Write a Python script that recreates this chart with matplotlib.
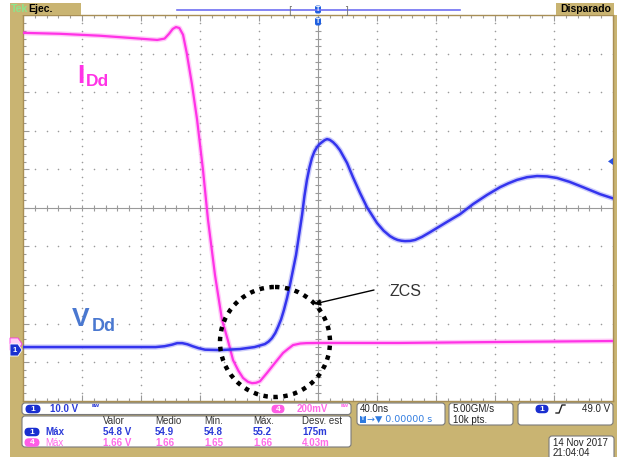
import matplotlib
matplotlib.use("Agg")
import matplotlib.pyplot as plt
from matplotlib.patches import Rectangle, FancyBboxPatch, Ellipse, Polygon
from matplotlib.ticker import MultipleLocator

# ---- acquisition settings -------------------------------------------------
TIME_PER_DIV = 40.0          # ns / div
CH1_VOLTS_PER_DIV = 10.0     # V / div
CH4_VOLTS_PER_DIV = 0.2      # V / div
CH1_GROUND_DIV = -3.69       # ground reference position (divisions)
CH4_GROUND_DIV = -3.60
TRIGGER_LEVEL = 49.0         # V

# ---- channel 1 : diode voltage V_Dd (V) ------------------------------------
vdd_t = [-200, -170, -140, -110, -104, -99, -95.5, -92, -88.5, -85, -81, -76.6,
         -66, -53, -43, -36, -33.5, -31.2, -29, -27.1, -25, -23.1, -21, -19.0,
         -14.9, -10.8, -9.2, -7.5, -5.8, -4.1, -2.4, -0.7, 1.0, 2.7, 4.4, 6.1,
         8.0, 10.2, 12.5, 14.9, 19.7, 23.7, 28.5, 33.2, 40.0, 44.5, 48.8, 51.5,
         54, 56.5, 59.0, 62.4, 65.8, 70.5, 75.9, 87.5, 96.3, 105.1, 114.6, 123.4,
         129, 134.9, 141.7, 148.5, 155.3, 162.0, 170.5, 179.7, 191.2, 200]
vdd_v = [0.78, 0.78, 0.78, 0.78, 1.0, 1.4, 1.8, 1.8, 1.5, 1.0, 0.5, 0.1,
         0.0, 0.26, 0.78, 1.56, 2.2, 3.1, 4.4, 6.0, 8.0, 10.4, 13.5, 16.9,
         24.7, 35.1, 40.0, 44.2, 47.4, 49.9, 51.6, 52.7, 53.5, 54.0, 54.5, 54.8,
         54.6, 54.0, 53.1, 51.9, 48.6, 44.9, 40.8, 37.1, 33.0, 31.0, 29.6, 29.0,
         28.6, 28.4, 28.3, 28.35, 28.6, 29.4, 30.6, 33.3, 35.3, 37.9, 40.3, 42.3,
         43.3, 44.2, 44.9, 45.2, 45.1, 44.7, 43.7, 42.3, 40.5, 39.4]

# ---- channel 4 : diode current probe I_Dd (V) ------------------------------
idd_t = [-200, -175, -148, -121, -109, -104, -101, -98.5, -96.3, -94, -91.5,
         -89, -85.4, -82, -78, -74.6, -69.8, -65.1, -61, -57.6, -54, -50.8,
         -47.5, -44.7, -42, -39.3, -34.6, -29.2, -23.7, -20, -16.9, -12, -8, 0,
         55, 123, 200]
idd_v = [1.63, 1.625, 1.615, 1.60, 1.593, 1.60, 1.625, 1.65, 1.66, 1.655, 1.62,
         1.525, 1.36, 1.18, 0.92, 0.66, 0.37, 0.14, 0.03, -0.07, -0.125, -0.163,
         -0.183, -0.19, -0.188, -0.18, -0.137, -0.085, -0.033, -0.01, 0.008,
         0.016, 0.018, 0.019, 0.019, 0.024, 0.029]

# ---- measurement table ------------------------------------------------------
meas_cols = ["Valor", "Medio", "Mín.", "Máx.", "Desv. est"]
meas_ch1 = ["54.8 V", "54.9", "54.8", "55.2", "175m"]
meas_ch4 = ["1.66 V", "1.66", "1.65", "1.66", "4.03m"]

# ---- colours ------------------------------------------------------------------
TAN = "#C9B472"
BLUE = "#3434EE"
MAGENTA = "#FF33E6"
CH1_TXT = "#2A3AD8"
CH4_TXT = "#FF6AE8"
GRID = "#9A9A9A"

W, H = 617, 457
fig = plt.figure(figsize=(W / 100, H / 100), dpi=100)
fig.patch.set_facecolor("white")


def frac(x0, y0, x1, y1):
    return [x0 / W, 1 - y1 / H, (x1 - x0) / W, (y1 - y0) / H]


# background (pixel coordinates)
bg = fig.add_axes([0, 0, 1, 1], zorder=0)
bg.set_xlim(0, W)
bg.set_ylim(H, 0)
bg.axis("off")
bg.add_patch(Rectangle((10, 15), 13, 386, color=TAN, lw=0))
bg.add_patch(Rectangle((10, 400), W - 10, 57, color=TAN, lw=0))
bg.add_patch(Rectangle((613, 15), 4, 386, color=TAN, lw=0))

# ---- screen -------------------------------------------------------------------
scr = fig.add_axes(frac(23, 15.5, 613, 400.5), zorder=1)
scr.set_facecolor("white")
scr.set_xlim(-5 * TIME_PER_DIV, 5 * TIME_PER_DIV)
scr.set_ylim(-5, 5)
for s in scr.spines.values():
    s.set_color("#A88E55")
    s.set_linewidth(1.0)
scr.xaxis.set_major_locator(MultipleLocator(TIME_PER_DIV))
scr.xaxis.set_minor_locator(MultipleLocator(TIME_PER_DIV / 5))
scr.yaxis.set_major_locator(MultipleLocator(1))
scr.yaxis.set_minor_locator(MultipleLocator(0.2))
scr.tick_params(which="both", direction="in", top=True, right=True,
                labelbottom=False, labelleft=False, color=GRID)
scr.tick_params(which="major", length=4, width=0.8)
scr.tick_params(which="minor", length=2.5, width=0.8)

# graticule dots
gx, gy = [], []
for k in range(-4, 5):
    if k == 0:
        continue
    for j in range(-25, 26):
        gx.append(k * TIME_PER_DIV)
        gy.append(j * 0.2)
for k in range(-4, 5):
    if k == 0:
        continue
    for j in range(-25, 26):
        gx.append(j * TIME_PER_DIV / 5)
        gy.append(k)
scr.scatter(gx, gy, s=1.3, color=GRID, lw=0, zorder=1)

# centre cross with sub-division ticks
scr.axhline(0, color=GRID, lw=0.8, zorder=1)
scr.axvline(0, color=GRID, lw=0.8, zorder=1)
ticks_t = [j * TIME_PER_DIV / 5 for j in range(-25, 26)]
ticks_y = [j * 0.2 for j in range(-25, 26)]
scr.plot(ticks_t, [0] * len(ticks_t), ls="none", marker="|", ms=4.5,
         mew=0.8, color=GRID, zorder=1)
scr.plot([0] * len(ticks_y), ticks_y, ls="none", marker="_", ms=4.5,
         mew=0.8, color=GRID, zorder=1)

# ---- traces -----------------------------------------------------------------
tr4 = scr.twinx()
tr4.set_zorder(2)
tr4.set_ylim((-5 - CH4_GROUND_DIV) * CH4_VOLTS_PER_DIV,
             (5 - CH4_GROUND_DIV) * CH4_VOLTS_PER_DIV)
tr1 = scr.twinx()
tr1.set_zorder(3)
tr1.set_ylim((-5 - CH1_GROUND_DIV) * CH1_VOLTS_PER_DIV,
             (5 - CH1_GROUND_DIV) * CH1_VOLTS_PER_DIV)
for a in (tr1, tr4):
    a.set_xlim(scr.get_xlim())
    a.axis("off")

tr4.plot(idd_t, idd_v, color=MAGENTA, lw=3.6, alpha=0.25,
         solid_joinstyle="round", solid_capstyle="round")
tr4.plot(idd_t, idd_v, color=MAGENTA, lw=1.6,
         solid_joinstyle="round", solid_capstyle="round")
tr1.plot(vdd_t, vdd_v, color=BLUE, lw=3.8, alpha=0.25,
         solid_joinstyle="round", solid_capstyle="round")
tr1.plot(vdd_t, vdd_v, color=BLUE, lw=1.8,
         solid_joinstyle="round", solid_capstyle="round")

# ---- overlay (pixel coordinates) ----------------------------------------------
ov = fig.add_axes([0, 0, 1, 1], zorder=5)
ov.set_xlim(0, W)
ov.set_ylim(H, 0)
ov.axis("off")
ov.patch.set_visible(False)

FONT = "Liberation Sans"

# annotations
ov.text(77, 83, "I", color=MAGENTA, fontsize=19, fontweight="bold",
        family=FONT, va="baseline")
ov.text(86, 86, "Dd", color=MAGENTA, fontsize=12.5, fontweight="bold",
        family=FONT, va="baseline")
ov.text(72, 326, "V", color="#4A78D0", fontsize=19, fontweight="bold",
        family=FONT, va="baseline")
ov.text(92, 331, "Dd", color="#4A78D0", fontsize=13, fontweight="bold",
        family=FONT, va="baseline")
ov.add_patch(Ellipse((275, 342), 110, 110, fill=False, ec="black", lw=3.2,
                     ls=(0, (1.0, 1.25)), zorder=6))
ov.annotate("", xy=(314, 304), xytext=(374, 290),
            arrowprops=dict(arrowstyle="-|>", color="black", lw=1.0,
                            mutation_scale=9, shrinkA=0, shrinkB=0))
ov.text(390, 296, "ZCS", color="#333333", fontsize=11.5, family=FONT,
        va="baseline")

# channel ground markers / trigger level
ov.add_patch(Polygon([(10, 338), (18, 338), (22, 344), (18, 350), (10, 350)],
                     closed=True, fc="#FFD0F6", ec=MAGENTA, lw=0.6))
ov.add_patch(Polygon([(10, 344), (18, 344), (22, 350), (18, 356), (10, 356)],
                     closed=True, fc="#1A2FD0", ec="white", lw=0.6))
ov.text(15, 350.5, "1", color="white", fontsize=5.5, fontweight="bold",
        ha="center", va="center", family=FONT)
trig_div = (TRIGGER_LEVEL / CH1_VOLTS_PER_DIV) + CH1_GROUND_DIV
trig_y = 208 - trig_div * 38.5
ov.add_patch(Polygon([(608, trig_y), (613, trig_y - 3.5), (613, trig_y + 3.5)],
                     closed=True, fc="#2850E0", ec="none"))

# header
ov.add_patch(Rectangle((10, 3), 71, 12, color=TAN, lw=0))
ov.text(11, 9.5, "Tek", color="#8CE68C", fontsize=7.5, fontweight="bold",
        family=FONT, va="center")
ov.text(28, 9.5, "Ejec.", color="black", fontsize=7.5, fontweight="bold",
        family=FONT, va="center")
ov.add_patch(Rectangle((556, 3), 58, 12, color=TAN, lw=0))
ov.text(560, 9.5, "Disparado", color="black", fontsize=7.5, fontweight="bold",
        family=FONT, va="center")
ov.plot([177, 460], [10, 10], color="#6E6EF2", lw=1.2)
ov.text(290, 10, "[", color="#777777", fontsize=7, ha="center", va="center")
ov.text(346, 10, "]", color="#777777", fontsize=7, ha="center", va="center")
for yc in (9.5, 21.5):
    ov.add_patch(FancyBboxPatch((315, yc - 4), 6, 8,
                                boxstyle="round,pad=0,rounding_size=2",
                                fc="#2060E0", ec="none"))
    ov.text(318, yc, "T", color="white", fontsize=5, fontweight="bold",
            ha="center", va="center", family=FONT)


# bottom status panel
def box(x0, y0, x1, y1):
    ov.add_patch(FancyBboxPatch((x0, y0), x1 - x0, y1 - y0,
                                boxstyle="round,pad=0,rounding_size=3",
                                fc="white", ec="#7A7A7A", lw=0.8))


def pill(xc, yc, w, h, color, label):
    ov.add_patch(FancyBboxPatch((xc - w / 2, yc - h / 2), w, h,
                                boxstyle="round,pad=0,rounding_size=%g" % (h / 2),
                                fc=color, ec="none"))
    ov.text(xc, yc + 0.3, label, color="white", fontsize=6, fontweight="bold",
            ha="center", va="center", family=FONT)


def txt(x, y, s, color="#222222", bold=True, size=7, ha="left", family=FONT):
    ov.text(x, y, s, color=color, fontsize=size,
            fontweight="bold" if bold else "normal", ha=ha, va="center",
            family=family)


box(22, 403, 351, 414.5)
box(22, 416, 351, 447)
box(357, 403, 445, 425)
box(449, 403, 513, 425)
box(518, 403, 613, 425)
box(549, 436, 614, 460)

pill(33, 409, 15, 8.5, "#1A2FD0", "1")
txt(50, 409, "10.0 V", CH1_TXT)
txt(92, 408, "ᴮᵂ", CH1_TXT, size=5, family="DejaVu Sans")
pill(278, 409, 13, 8.5, "#FF5CE6", "4")
txt(297, 409, "200mV", CH4_TXT)
txt(341, 408, "ᴮᵂ", CH4_TXT, size=5, family="DejaVu Sans")

col_x = [103, 155, 204, 253, 302]
for x, s in zip(col_x, meas_cols):
    txt(x, 421.5, s, "#333333", bold=False)
pill(32, 432, 15, 8.5, "#1A2FD0", "1")
txt(45, 432, "Máx", CH1_TXT)
pill(32, 442.5, 15, 8.5, "#FF5CE6", "4")
txt(45, 442.5, "Máx", CH4_TXT, bold=False)
for x, s in zip(col_x, meas_ch1):
    txt(x, 432, s, CH1_TXT)
for x, s in zip(col_x, meas_ch4):
    txt(x, 442.5, s, CH4_TXT)

txt(360, 409, "%.1fns" % TIME_PER_DIV, "#222222", bold=False)
ov.add_patch(Rectangle((360, 415.5), 6, 7, fc="#2F7BE0", ec="none"))
ov.text(363, 419, "T", color="white", fontsize=4.5, fontweight="bold",
        ha="center", va="center", family=FONT)
txt(367, 419.5, "→▼ 0.00000 s", "#2F7BE0", size=6.8, bold=False,
    family="DejaVu Sans")
txt(453, 409, "5.00GM/s", "#222222", bold=False)
txt(453, 420, "10k pts.", "#222222", bold=False)

pill(542, 409, 13, 8.5, "#1A2FD0", "1")
ov.plot([556, 559, 562, 565], [413, 413, 405, 405], color="#222222", lw=1.0)
txt(610, 409, "%.1f V" % TRIGGER_LEVEL, "#222222", bold=False, ha="right")
txt(553, 443, "14 Nov 2017", "#222222", bold=False)
txt(553, 453, "21:04:04", "#222222", bold=False)

fig.savefig("out.png", dpi=100)
